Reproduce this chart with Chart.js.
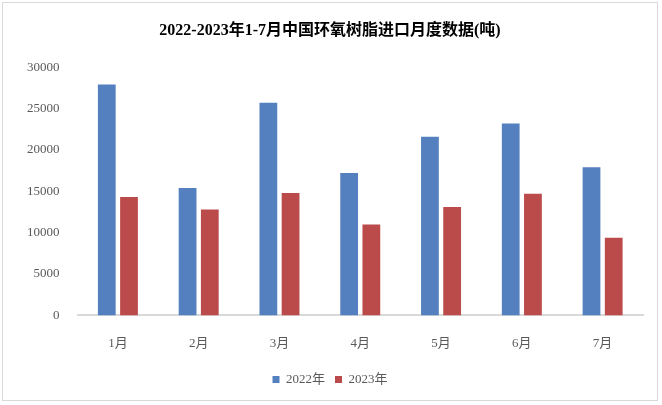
<!DOCTYPE html>
<html>
<head>
<meta charset="utf-8">
<script src="https://cdn.jsdelivr.net/npm/chart.js@4"></script>
<style>
  body { margin: 0; background: #fff; }
  #box { position: absolute; left: 2px; top: 2px; width: 656px; height: 399px; border: 1px solid #d9d9d9; box-sizing: border-box; }
</style>
</head>
<body>
<div id="box"><canvas id="barChart"></canvas></div>
<script>
const months = ['1月', '2月', '3月', '4月', '5月', '6月', '7月'];
const values2022 = [27900, 15400, 25700, 17200, 21600, 23200, 17900];
const values2023 = [14300, 12800, 14800, 11000, 13100, 14700, 9400];

const serif = '"Liberation Serif", "Noto Sans CJK SC", serif';

new Chart(document.getElementById('barChart'), {
  type: 'bar',
  data: {
    labels: months,
    datasets: [
      { label: '2022年', data: values2022, backgroundColor: '#5580bf' },
      { label: '2023年', data: values2023, backgroundColor: '#bb4b4b' }
    ]
  },
  options: {
    responsive: true,
    maintainAspectRatio: false,
    animation: false,
    layout: { padding: { left: 14, right: 14, top: 4, bottom: 4 } },
    datasets: { bar: { categoryPercentage: 0.55, barPercentage: 0.8 } },
    plugins: {
      title: {
        display: true,
        text: '2022-2023年1-7月中国环氧树脂进口月度数据(吨)',
        color: '#000',
        font: { family: serif, size: 16, weight: 'bold' },
        padding: { top: 14, bottom: 27 }
      },
      legend: {
        position: 'bottom',
        labels: { boxWidth: 7, boxHeight: 7, color: '#595959', font: { family: serif, size: 13 } }
      }
    },
    scales: {
      x: {
        grid: { display: false },
        border: { color: '#d9d9d9', width: 2 },
        ticks: { padding: 12, color: '#595959', font: { family: serif, size: 13 } }
      },
      y: {
        min: 0, max: 30000,
        grid: { display: false },
        border: { display: false },
        ticks: { stepSize: 5000, padding: 10, color: '#595959', font: { family: serif, size: 13 }, callback: v => String(v) }
      }
    }
  }
});
</script>
</body>
</html>
